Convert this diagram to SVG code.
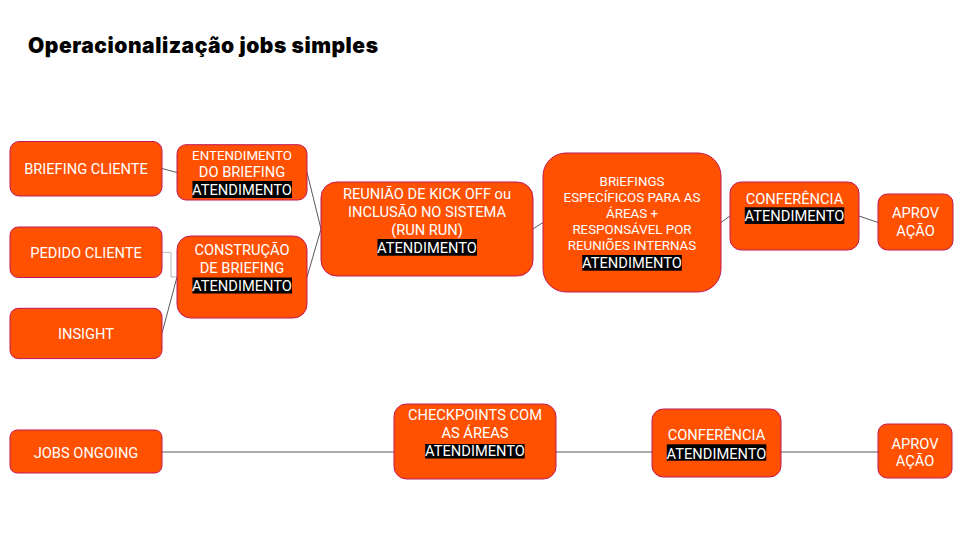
<svg xmlns="http://www.w3.org/2000/svg" width="960" height="540" viewBox="0 0 960 540">
<style>
.box{fill:#FF5100;stroke:#C2185B;stroke-width:1}
.t{font-family:Roboto,"Liberation Sans",sans-serif;font-size:14.67px;fill:#FFFFFF;text-anchor:middle}
.s{font-size:13.33px}
.hl{fill:#000000}
.c{fill:none;stroke:#595959;stroke-width:1}
.c2{fill:none;stroke:#B7B7B7;stroke-width:1}
.title{font-family:Inter,Roboto,"Liberation Sans",sans-serif;font-size:21px;font-weight:900;fill:#000000}
</style>
<rect x="0" y="0" width="960" height="540" fill="#FFFFFF"/>
<text class="title" x="28" y="52.5" textLength="350" lengthAdjust="spacing">Operacionalização jobs simples</text>
<g id="connectors">
<line class="c" x1="162" y1="168.5" x2="177" y2="172.5"/>
<polyline class="c2" points="162,252.3 171,252.3 171,277 177,277"/>
<line class="c" x1="162" y1="333" x2="177" y2="277"/>
<line class="c" x1="307" y1="172.3" x2="321" y2="229"/>
<line class="c" x1="307" y1="277" x2="321" y2="229"/>
<line class="c" x1="533" y1="229" x2="543" y2="222.5"/>
<line class="c" x1="721" y1="222.5" x2="730" y2="216"/>
<line class="c" x1="859" y1="216" x2="878" y2="222.5"/>
<line class="c" x1="162" y1="452" x2="394" y2="452"/>
<line class="c" x1="556" y1="452" x2="652" y2="452"/>
<line class="c" x1="781" y1="452" x2="878" y2="452"/>
</g>
<g id="briefing-cliente">
<rect class="box" x="10" y="141.5" width="152" height="54.5" rx="9"/>
<text class="t" x="86" y="174.2">BRIEFING CLIENTE</text>
</g>
<g id="entendimento">
<rect class="box" x="177" y="144.7" width="130" height="55.3" rx="9"/>
<text class="t s" x="242" y="159.7">ENTENDIMENTO</text>
<text class="t" x="242" y="177.4">DO BRIEFING</text>
<rect class="hl" x="192.5" y="181" width="99.5" height="17"/>
<text class="t" x="242" y="194.6">ATENDIMENTO</text>
</g>
<g id="pedido-cliente">
<rect class="box" x="10" y="227" width="152" height="50.5" rx="8.3"/>
<text class="t" x="86" y="257.5">PEDIDO CLIENTE</text>
</g>
<g id="construcao">
<rect class="box" x="177" y="236" width="130" height="82" rx="13.7"/>
<text class="t" x="242" y="255.2">CONSTRUÇÃO</text>
<text class="t" x="242" y="272.5">DE BRIEFING</text>
<rect class="hl" x="192.5" y="277.5" width="99.5" height="16"/>
<text class="t" x="242" y="290.9">ATENDIMENTO</text>
</g>
<g id="insight">
<rect class="box" x="10" y="308.3" width="152" height="50.3" rx="8.3"/>
<text class="t" x="86" y="338.5">INSIGHT</text>
</g>
<g id="reuniao">
<rect class="box" x="321" y="182" width="212" height="94" rx="15.7"/>
<text class="t" x="427" y="198.5">REUNIÃO DE KICK OFF ou</text>
<text class="t" x="427" y="216.9">INCLUSÃO NO SISTEMA</text>
<text class="t" x="427" y="234.5">(RUN RUN)</text>
<rect class="hl" x="377.5" y="239" width="99.5" height="16.7"/>
<text class="t" x="427" y="252.5">ATENDIMENTO</text>
</g>
<g id="briefings-especificos">
<rect class="box" x="543" y="153" width="178" height="139" rx="23"/>
<text class="t s" x="632" y="186.4">BRiEFINGS</text>
<text class="t s" x="632" y="202">ESPECÍFICOS PARA AS</text>
<text class="t s" x="632" y="218">ÁREAS +</text>
<text class="t s" x="632" y="234">RESPONSÁVEL POR</text>
<text class="t s" x="632" y="249.7">REUNIÕES INTERNAS</text>
<rect class="hl" x="582.3" y="255" width="99.5" height="15.7"/>
<text class="t" x="632" y="267.8">ATENDIMENTO</text>
</g>
<g id="conferencia-1">
<rect class="box" x="730" y="182" width="129" height="68" rx="11.3"/>
<text class="t" x="794.5" y="203.5">CONFERÊNCIA</text>
<rect class="hl" x="744.8" y="207.3" width="99.5" height="16.7"/>
<text class="t" x="794.5" y="220.5">ATENDIMENTO</text>
</g>
<g id="aprovacao-1">
<rect class="box" x="878" y="194" width="75" height="56" rx="9.3"/>
<text class="t" x="915.5" y="217.9">APROV</text>
<text class="t" x="915.5" y="235.9">AÇÃO</text>
</g>
<g id="jobs-ongoing">
<rect class="box" x="10" y="430" width="152" height="43" rx="7.2"/>
<text class="t" x="86" y="457.5">JOBS ONGOING</text>
</g>
<g id="checkpoints">
<rect class="box" x="394" y="404" width="162" height="75" rx="12.5"/>
<text class="t" x="475" y="420.2">CHECKPOINTS COM</text>
<text class="t" x="475" y="437.9">AS ÁREAS</text>
<rect class="hl" x="425.2" y="444" width="99.5" height="14.5"/>
<text class="t" x="475" y="456.2">ATENDIMENTO</text>
</g>
<g id="conferencia-2">
<rect class="box" x="652" y="409" width="129" height="68" rx="11.3"/>
<text class="t" x="716.5" y="440.2">CONFERÊNCIA</text>
<rect class="hl" x="666.8" y="444.3" width="99.5" height="16.4"/>
<text class="t" x="716.5" y="458.5">ATENDIMENTO</text>
</g>
<g id="aprovacao-2">
<rect class="box" x="878" y="424" width="74" height="54" rx="9"/>
<text class="t" x="915" y="448.5">APROV</text>
<text class="t" x="915" y="466.2">AÇÃO</text>
</g>
</svg>
